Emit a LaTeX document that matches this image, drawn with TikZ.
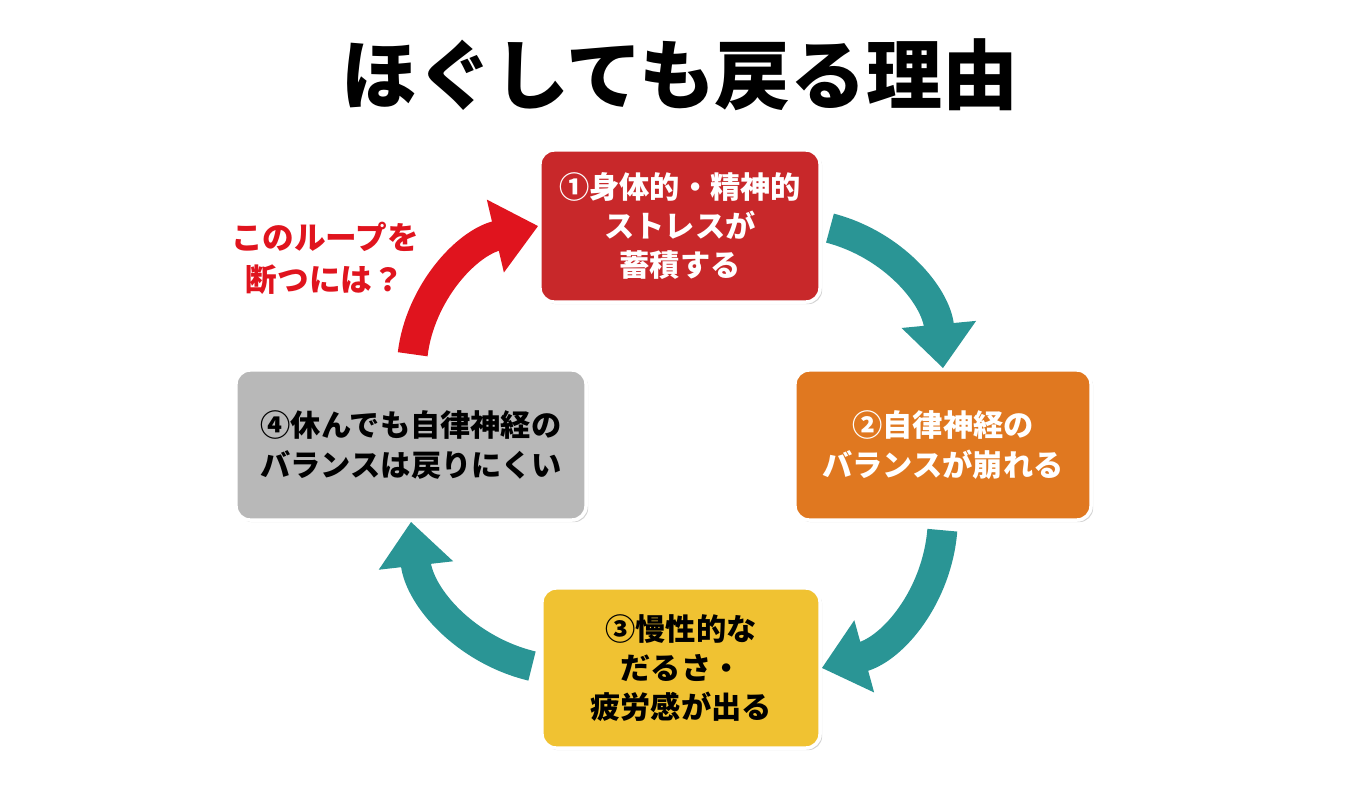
\documentclass[tikz,border=0pt]{standalone}
\usepackage{fontspec}
\setmainfont{Noto Sans CJK JP}
\usetikzlibrary{arrows.meta,shadows}
\definecolor{boxred}{HTML}{C8282A}
\definecolor{boxorange}{HTML}{E07820}
\definecolor{boxyellow}{HTML}{F0C232}
\definecolor{boxgray}{HTML}{B8B8B8}
\definecolor{loopteal}{HTML}{2A9595}
\definecolor{breakred}{HTML}{E0141E}
\tikzset{
  stage/.style={draw=white, line width=2.5pt, rounded corners=10pt, align=center,
    font=\bfseries\fontsize{21.5}{28}\selectfont,
    drop shadow={shadow xshift=1.5pt, shadow yshift=-1.5pt, opacity=.35}},
  flow/.style={loopteal, line width=0.75cm,
    -{Triangle[width=1.8cm,length=1.1cm]}},
}
\begin{document}
\begin{tikzpicture}[x=0.025cm, y=-0.025cm]
\useasboundingbox (0,0) rectangle (1360,784);
\node[font=\bfseries\fontsize{54}{60}\selectfont] (title) at (680,75) {ほぐしても戻る理由};

\node[stage, fill=boxred, text=white, minimum width=7cm, minimum height=3.8cm] (s1) at (680,226) {①身体的・精神的\\ストレスが\\蓄積する};
\node[stage, fill=boxorange, text=white, minimum width=7.4cm, minimum height=3.75cm] (s2) at (943,445) {②自律神経の\\バランスが崩れる};
\node[stage, fill=boxyellow, minimum width=6.95cm, minimum height=4cm] (s3) at (681,668) {③慢性的な\\だるさ・\\疲労感が出る};
\node[stage, fill=boxgray, minimum width=8.75cm, minimum height=3.75cm] (s4) at (411,445) {④休んでも自律神経の\\バランスは戻りにくい};

\node[text=breakred, align=center, font=\bfseries\fontsize{22.5}{30}\selectfont] (ask) at (325,258) {このループを\\断つには？};

\draw[flow, shorten <=6pt] (s1.east) to[bend left=35] (s2.north);
\draw[flow, shorten <=6pt] (s2.south) to[bend left=35] (s3.east);
\draw[flow, shorten <=6pt] (s3.west) to[bend left=35] (s4.south);
\draw[flow, breakred, shorten <=10pt] (s4.north) to[bend left=35] (s1.west);
\end{tikzpicture}
\end{document}
